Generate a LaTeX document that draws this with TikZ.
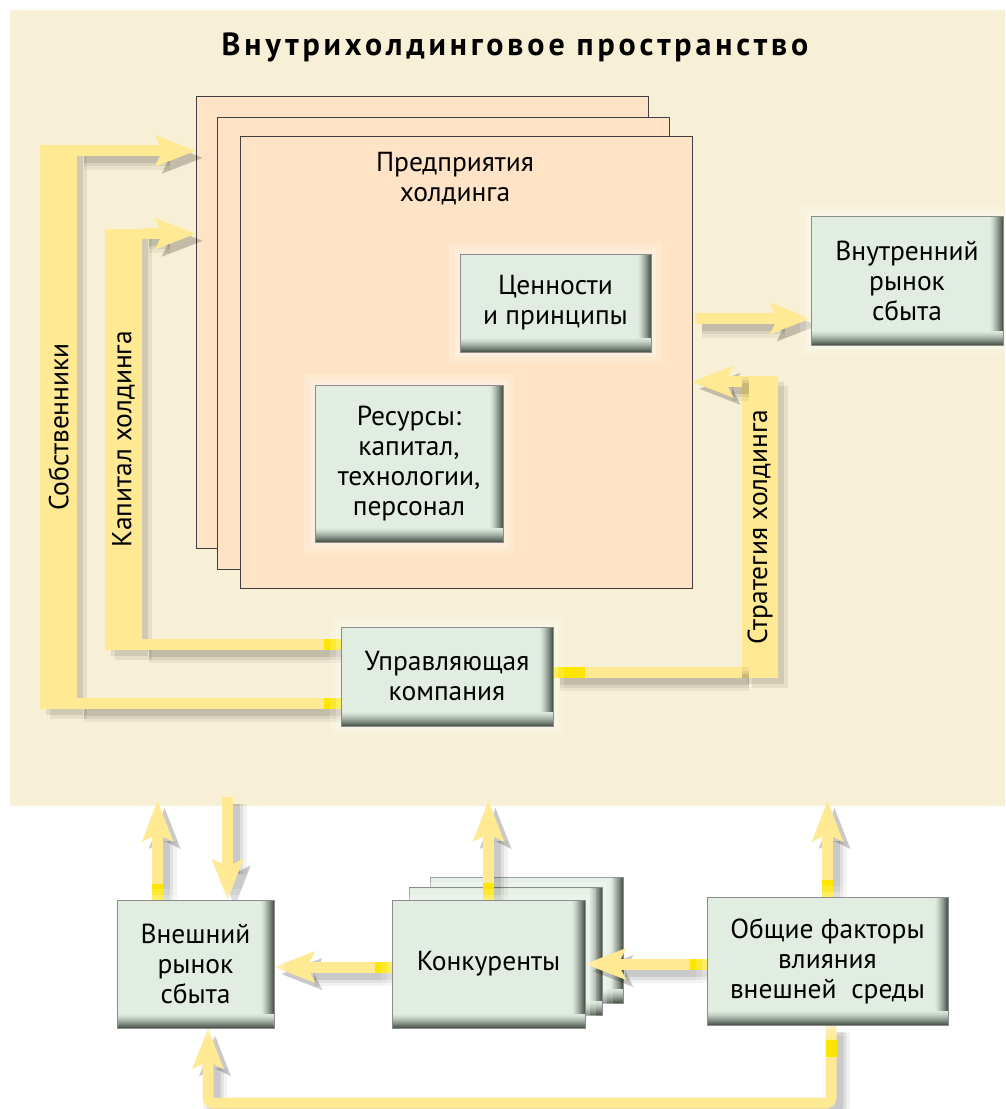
\documentclass[tikz,border=0pt]{standalone}
\usepackage{fontspec}
\setmainfont{PT Sans}
\newfontfamily\titlefont{PT Sans}[LetterSpace=12]
\usetikzlibrary{arrows.meta,calc}
\pgfdeclarelayer{bg}
\pgfdeclarelayer{conn}
\pgfsetlayers{bg,conn,main}
\definecolor{cream}{HTML}{F7F0D6}
\definecolor{peach}{HTML}{FEE3C6}
\definecolor{boxgreen}{HTML}{E1EDE1}
\definecolor{boxdark}{HTML}{4E5A50}
\definecolor{arrowyel}{HTML}{FFE993}
\definecolor{brightyel}{HTML}{FFE500}
\begin{document}
\begin{tikzpicture}[x=1pt,y=-1pt,
  every node/.style={font=\fontsize{27.5}{30}\selectfont, inner sep=0pt},
  greenbox/.style={fill=boxgreen, draw=black!45, line width=0.7pt, align=center,
    preaction={draw=white, opacity=0.18, line width=22pt},
    preaction={draw=white, opacity=0.25, line width=10pt},
    path picture={
      \foreach \i in {13,12,...,1}{
        \pgfmathsetmacro\p{100*((14-\i)/13)^1.4}
        \fill[boxdark!\p!boxgreen] ([xshift={-\i*1pt}]path picture bounding box.north east)
          rectangle (path picture bounding box.south east);
      }
      \foreach \i in {14,13,...,1}{
        \pgfmathsetmacro\p{100*((15-\i)/14)^1.4}
        \fill[boxdark!\p!boxgreen] (path picture bounding box.south west)
          rectangle ([yshift={\i*1pt}]path picture bounding box.south east);
      }
    }},
  entbox/.style={fill=peach, draw=black!75, line width=0.8pt, minimum width=452pt, minimum height=452pt},
  labelbar/.style={fill=arrowyel, draw=none,
    preaction={fill=black, opacity=0.07, transform canvas={shift={(10pt,-10pt)}}},
    preaction={fill=black, opacity=0.09, transform canvas={shift={(6pt,-6pt)}}}},
  band/.style={draw=arrowyel, line width=11pt},
  arr/.style={band, -{Stealth[length=41pt,width=32pt,inset=8pt,line width=0pt]}},
  shadowed/.style={
    preaction={draw=black, opacity=0.05, line width=24pt, transform canvas={shift={(7pt,-7pt)}}},
    preaction={draw=black, opacity=0.07, line width=17pt, transform canvas={shift={(7pt,-7pt)}}},
    preaction={draw=black, opacity=0.10, line width=11pt, transform canvas={shift={(7pt,-7pt)}}}},
  bright/.style={draw=brightyel, line width=11pt}
]
\useasboundingbox (0,0) rectangle (1005,1109);

\begin{pgfonlayer}{bg}
  \fill[white] (0,0) rectangle (1005,1109);
  \fill[cream] (10,10) rectangle (1005,806);
  \node[entbox] (ent1) at (422,322) {};
  \node[entbox] (ent2) at (443,343) {};
  \node[entbox] (ent3) at (466,362) {};
  \node[greenbox, minimum width=193pt, minimum height=126pt] (kon3) at (526.5,940) {};
  \node[greenbox, minimum width=193pt, minimum height=128pt] (kon2) at (505.5,951) {};
\end{pgfonlayer}

\node[font=\titlefont\bfseries\fontsize{32}{36}\selectfont] (title) at (515,47) {Внутрихолдинговое пространство};
\node[align=center] (enttxt) at (455,179) {Предприятия\\холдинга};

\node[greenbox, minimum width=191pt, minimum height=98pt] (cen) at (555.5,303) {Ценности\\и принципы};
\node[greenbox, minimum width=188pt, minimum height=157pt] (res) at (409,463.5) {Ресурсы:\\капитал,\\технологии,\\персонал};
\node[greenbox, minimum width=192pt, minimum height=129pt] (vr) at (907,280.5) {Внутренний\\рынок\\сбыта};
\node[greenbox, minimum width=212pt, minimum height=99pt] (uk) at (447,676.5) {Управляющая\\компания};
\node[greenbox, minimum width=157pt, minimum height=128pt] (ext) at (195.5,964) {Внешний\\рынок\\сбыта};
\node[greenbox, minimum width=193pt, minimum height=128pt] (kon) at (488.5,964) {Конкуренты};
\node[greenbox, minimum width=241pt, minimum height=128pt] (obs) at (827.5,961) {Общие факторы\\влияния\\внешней\ \ среды};

\begin{pgfonlayer}{conn}
  % label bars
  \node[labelbar, minimum width=37pt, minimum height=564pt] (sob) at (58.5,427) {};
  \node[rotate=90] (sobt) at (sob.center) {Собственники};
  \node[labelbar, minimum width=37pt, minimum height=421pt] (kap) at (123.5,439.5) {};
  \node[rotate=90] (kapt) at (kap.center) {Капитал холдинга};
  \node[labelbar, minimum width=36pt, minimum height=302pt] (str) at (760,527) {};
  \node[rotate=90] (strt) at (str.center) {Стратегия холдинга};

  % owners
  \coordinate (s1) at ($(sob.north east)+(0,6)$);
  \draw[shadowed, arr] (s1) -- (s1 -| ent1.west);
  \coordinate (s2) at ($(sob.south east)+(0,-6)$);
  \draw[shadowed, band] (s2) -- (s2 -| uk.west);
  \draw[bright] (s2 -| uk.west) -- ++(-17,0);
  % capital
  \coordinate (k1) at ($(kap.north east)+(0,5)$);
  \draw[shadowed, arr] (k1) -- (k1 -| ent1.west);
  \coordinate (k2) at ($(kap.south east)+(0,-6)$);
  \draw[shadowed, band] (k2) -- (k2 -| uk.west);
  \draw[bright] (k2 -| uk.west) -- ++(-17,0);
  % strategy
  \coordinate (t1) at ($(str.north west)+(0,6)$);
  \draw[shadowed, arr] (t1) -- (t1 -| ent3.east);
  \coordinate (t2) at ($(str.south west)+(0,-6)$);
  \draw[shadowed, band] (t2 -| uk.east) -- (t2);
  \draw[bright] (t2 -| uk.east) -- ++(32,0);
  % to internal market
  \coordinate (vp) at ($(vr.west)+(0,38)$);
  \draw[shadowed, arr] ($(vp -| ent3.east)+(3,0)$) -- (vp);

  % bottom part
  \coordinate (zone) at (0,801);
  \coordinate (zone2) at (0,797);
  \coordinate (eu) at ($(ext.north west)+(41,0)$);
  \draw[shadowed, arr] (eu) -- (eu |- zone);
  \draw[bright] (eu) -- ++(0,-16);
  \coordinate (ed) at ($(ext.north west)+(111,0)$);
  \draw[shadowed, arr] (ed |- zone2) -- (ed);
  \draw[shadowed, arr] (kon.north) -- (kon.north |- zone);
  \draw[bright] (kon.north) -- ++(0,-17);
  \draw[shadowed, arr] (obs.north) -- (obs.north |- zone);
  \draw[bright] (obs.north) -- ++(0,-17);
  \coordinate (kw) at ($(kon.west)+(0,3)$);
  \draw[shadowed, arr] (kw) -- (kw -| ext.east);
  \draw[bright] (kw) -- ++(-17,0);
  \draw[shadowed, arr] (obs.west |- kon.east) -- (kon.east);
  \draw[bright] (obs.west |- kon.east) -- ++(-17,0);
  \coordinate (ob) at ($(obs.south)+(3.5,0)$);
  \coordinate (eb) at ($(ext.south)+(12.5,0)$);
  \coordinate (bot) at (0,1103);
  \draw[shadowed, arr, rounded corners=5pt] (ob) -- (ob |- bot) -- (eb |- bot) -- (eb);
  \draw[bright] ($(ob)+(0,15)$) -- ++(0,17);
\end{pgfonlayer}
\end{tikzpicture}
\end{document}
